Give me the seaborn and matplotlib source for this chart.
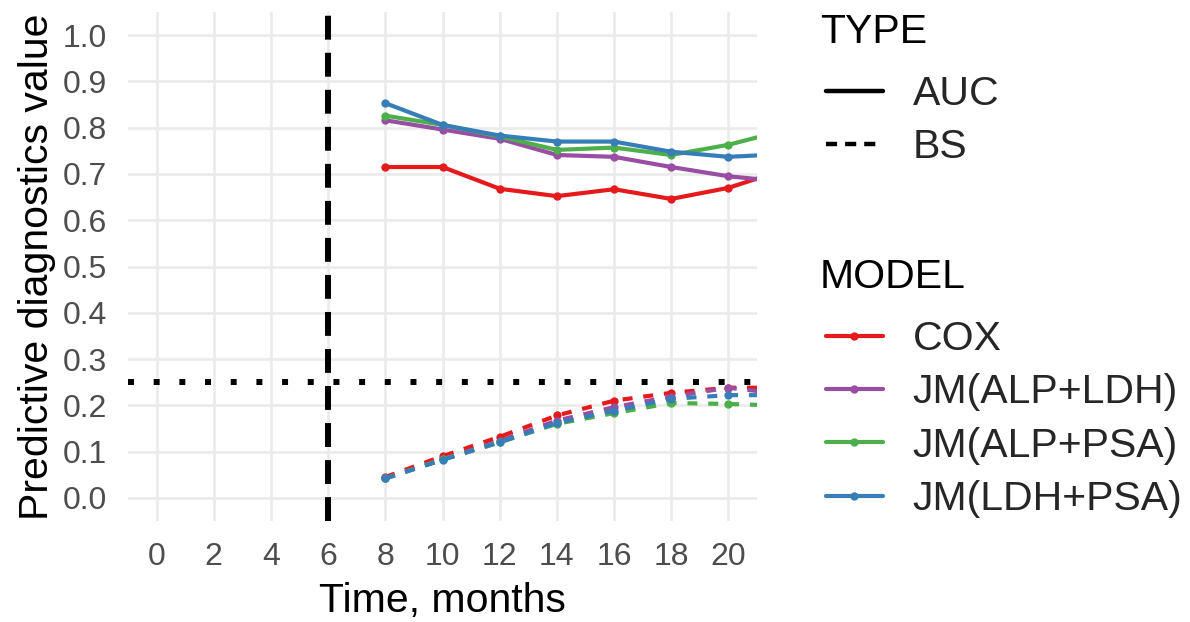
import matplotlib
matplotlib.use("Agg")
import matplotlib.pyplot as plt
from matplotlib.lines import Line2D
import seaborn as sns
import pandas as pd

# ---- data ----
times = [8, 10, 12, 14, 16, 18, 20, 22]
models = ["COX", "JM(ALP+LDH)", "JM(ALP+PSA)", "JM(LDH+PSA)"]
types = ["AUC", "BS"]

auc_cox = [0.715, 0.715, 0.668, 0.652, 0.667, 0.646, 0.670, 0.710]
auc_alp_ldh = [0.816, 0.796, 0.776, 0.741, 0.737, 0.715, 0.695, 0.683]
auc_alp_psa = [0.826, 0.806, 0.781, 0.752, 0.757, 0.741, 0.763, 0.795]
auc_ldh_psa = [0.853, 0.806, 0.783, 0.770, 0.770, 0.748, 0.737, 0.743]

bs_cox = [0.045, 0.090, 0.132, 0.178, 0.210, 0.227, 0.238, 0.238]
bs_alp_ldh = [0.042, 0.083, 0.123, 0.167, 0.196, 0.219, 0.238, 0.224]
bs_alp_psa = [0.042, 0.083, 0.120, 0.160, 0.183, 0.205, 0.203, 0.199]
bs_ldh_psa = [0.042, 0.082, 0.120, 0.162, 0.188, 0.214, 0.222, 0.222]

landmark_time = 6
bs_reference = 0.25

x_ticks = [0, 2, 4, 6, 8, 10, 12, 14, 16, 18, 20]
y_ticks = [0.0, 0.1, 0.2, 0.3, 0.4, 0.5, 0.6, 0.7, 0.8, 0.9, 1.0]

colors = ["#E41A1C", "#984EA3", "#4DAF4A", "#377EB8"]

auc_series = [auc_cox, auc_alp_ldh, auc_alp_psa, auc_ldh_psa]
bs_series = [bs_cox, bs_alp_ldh, bs_alp_psa, bs_ldh_psa]

rows = []
for m, a, b in zip(models, auc_series, bs_series):
    for t, va, vb in zip(times, a, b):
        rows.append({"time": t, "value": va, "MODEL": m, "TYPE": "AUC"})
        rows.append({"time": t, "value": vb, "MODEL": m, "TYPE": "BS"})
df = pd.DataFrame(rows)

# ---- plot ----
sns.set_theme(style="whitegrid")
plt.rcParams["font.family"] = ["Liberation Sans", "DejaVu Sans"]

TITLE_FS = 29.5
TICK_FS = 23
BS_DASH = (2.4, 2.6)

fig = plt.figure(figsize=(11.9, 6.22), dpi=100)
ax = fig.add_axes([128 / 1190, 1 - 521 / 622, (757 - 128) / 1190, (521 - 12) / 622])

palette = dict(zip(models, colors))
sns.lineplot(data=df, x="time", y="value", hue="MODEL", style="TYPE",
             hue_order=models, style_order=types, palette=palette,
             markers={"AUC": "o", "BS": "o"},
             dashes={"AUC": "", "BS": BS_DASH},
             linewidth=3.0, markersize=6, markeredgewidth=0,
             legend=False, ax=ax, estimator=None, sort=True)

ax.axvline(landmark_time, color="black", linewidth=4.3, dashes=(4, 2.2), zorder=1)
ax.axhline(bs_reference, color="black", linewidth=4.3, dashes=(1, 3.3), zorder=1)

ax.set_xlim(-1, 21)
ax.set_ylim(-0.05, 1.05)
ax.set_xticks(x_ticks)
ax.set_yticks(y_ticks)
ax.set_yticklabels([f"{v:.1f}" for v in y_ticks])
ax.set_facecolor("white")
for s in ax.spines.values():
    s.set_visible(False)
ax.grid(True, color="#EBEBEB", linewidth=1.9)
ax.tick_params(axis="both", length=0, labelsize=TICK_FS, labelcolor="#4D4D4D")
ax.tick_params(axis="x", pad=15)
ax.tick_params(axis="y", pad=15)
ax.set_xlabel("Time, months", fontsize=TITLE_FS, color="black", labelpad=7)
ax.set_ylabel("Predictive diagnostics value", fontsize=TITLE_FS, color="black", labelpad=5)

# ---- legends ----
fig.text(820 / 1190, 1 - 32 / 622, "TYPE", fontsize=TITLE_FS, color="black",
         ha="left", va="center")
fig.text(820 / 1190, 1 - 277 / 622, "MODEL", fontsize=TITLE_FS, color="black",
         ha="left", va="center")

type_handles = [
    Line2D([0], [0], color="black", linewidth=3.2),
    Line2D([0], [0], color="black", linewidth=3.2, dashes=(2.5, 1.8)),
]
common = dict(loc="upper left", frameon=False, fontsize=TITLE_FS,
              handlelength=1.39, handletextpad=0.73, labelspacing=0.375,
              borderaxespad=0, borderpad=0)
leg1 = fig.legend(type_handles, types, bbox_to_anchor=(826 / 1190, 1 - 75 / 622), **common)

model_handles = [Line2D([0], [0], color=c, linewidth=3.0, marker="o",
                        markersize=6, markeredgewidth=0) for c in colors]
leg2 = fig.legend(model_handles, models, bbox_to_anchor=(826 / 1190, 1 - 320 / 622), **common)

fig.savefig("out.png", dpi=100, facecolor="white")
